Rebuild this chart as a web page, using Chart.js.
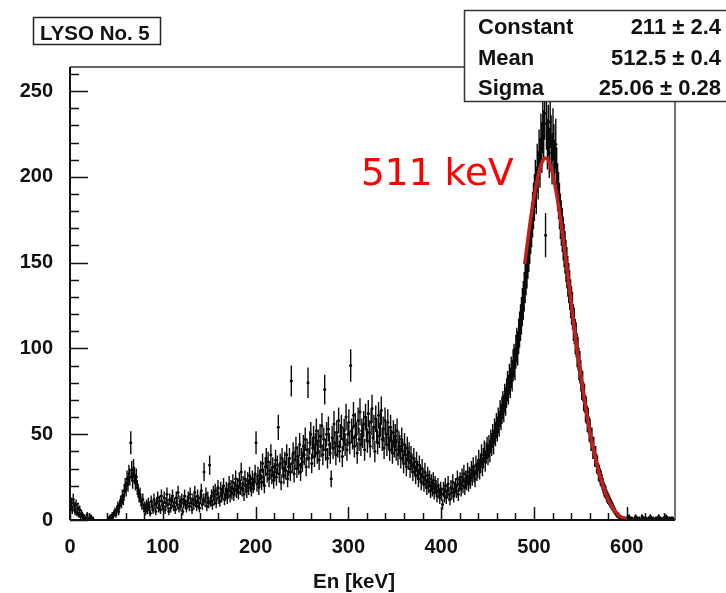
<!DOCTYPE html>
<html lang="en">
<head>
<meta charset="UTF-8"/>
<title>LYSO No. 5</title>
<script src="https://cdn.jsdelivr.net/npm/chart.js@4.4.1/dist/chart.umd.min.js"></script>
<style>
  body{margin:0;background:#fff}
  #box{width:726px;height:593px}
</style>
</head>
<body>
<div id="box"><canvas id="Chart" width="726" height="593"></canvas></div>
<script>
// histogram: 1 keV bins, first bin centred at 0.5 keV
const binStart = 0.5;
const binWidth = 1;
const counts = [
  // 0 - 49
  7, 10, 6, 12, 8, 5, 9, 4, 7, 3,
  6, 2, 4, 3, 1, 2, 0, 1, 3, 0,
  1, 0, 2, 0, 1, 0, 0, 0, 0, 0,
  0, 0, 0, 0, 0, 0, 0, 0, 0, 0,
  0, 1, 0, 2, 1, 3, 2, 4, 5, 3,
  // 50 - 99
  6, 8, 5, 9, 11, 10, 14, 12, 17, 20,
  18, 24, 21, 27, 25, 45, 29, 23, 30, 26,
  22, 25, 19, 17, 14, 15, 11, 9, 12, 7,
  8, 5, 9, 6, 10, 7, 4, 11, 8, 6,
  12, 9, 5, 10, 13, 7, 11, 6, 14, 9,
  // 100 - 149
  8, 13, 6, 10, 15, 9, 5, 12, 7, 11,
  14, 8, 10, 6, 13, 9, 16, 7, 11, 8,
  12, 5, 10, 14, 9, 7, 11, 13, 8, 15,
  10, 6, 12, 9, 16, 11, 8, 14, 10, 7,
  13, 17, 9, 12, 28, 11, 15, 8, 13, 10,
  // 150 - 199
  32, 11, 14, 9, 16, 12, 17, 10, 15, 19,
  13, 11, 18, 14, 16, 20, 12, 15, 18, 13,
  17, 21, 14, 19, 16, 22, 15, 18, 24, 17,
  20, 16, 23, 19, 28, 18, 21, 15, 24, 20,
  17, 23, 19, 26, 21, 18, 24, 20, 22, 27,
  // 200 - 249
  45, 21, 26, 19, 24, 29, 22, 33, 25, 20,
  31, 36, 27, 34, 24, 29, 38, 26, 31, 23,
  28, 35, 25, 32, 54, 27, 33, 22, 36, 30,
  26, 34, 29, 38, 24, 31, 36, 28, 81, 33,
  39, 27, 35, 42, 30, 37, 32, 44, 28, 36,
  // 250 - 299
  34, 43, 38, 47, 31, 41, 80, 36, 45, 50,
  33, 42, 48, 37, 44, 52, 39, 46, 35, 49,
  43, 55, 38, 47, 76, 41, 50, 36, 53, 44,
  39, 24, 48, 42, 56, 45, 38, 51, 43, 58,
  40, 49, 54, 37, 47, 52, 44, 60, 41, 50,
  // 300 - 349
  57, 45, 90, 52, 48, 61, 43, 55, 50, 39,
  58, 47, 63, 44, 52, 49, 56, 41, 60, 53,
  46, 62, 51, 43, 57, 65, 48, 54, 40, 59,
  52, 45, 61, 49, 56, 64, 47, 53, 42, 58,
  50, 44, 57, 48, 41, 54, 46, 39, 51, 43,
  // 350 - 399
  49, 41, 52, 38, 45, 43, 36, 47, 40, 33,
  44, 38, 31, 42, 35, 39, 30, 37, 33, 28,
  36, 31, 26, 34, 29, 24, 32, 27, 22, 30,
  25, 21, 28, 23, 19, 26, 20, 24, 17, 22,
  18, 23, 16, 21, 19, 14, 20, 17, 13, 18,
  // 400 - 449
  15, 9, 18, 14, 20, 13, 17, 21, 15, 12,
  19, 16, 22, 14, 18, 20, 17, 24, 15, 21,
  23, 18, 25, 20, 27, 19, 24, 22, 28, 21,
  26, 23, 29, 25, 31, 27, 24, 32, 28, 30,
  35, 29, 33, 38, 31, 36, 40, 34, 39, 42,
  // 450 - 499
  38, 43, 40, 46, 44, 49, 45, 52, 50, 55,
  53, 58, 56, 62, 60, 64, 67, 65, 71, 69,
  74, 78, 76, 82, 80, 86, 84, 90, 93, 91,
  98, 102, 100, 107, 111, 115, 119, 124, 128, 133,
  138, 143, 147, 153, 157, 162, 168, 172, 178, 183,
  // 500 - 549
  188, 196, 192, 205, 201, 213, 208, 222, 217, 229,
  224, 237, 166, 231, 219, 227, 214, 232, 221, 210,
  225, 216, 207, 219, 203, 194, 189, 183, 177, 173,
  169, 164, 160, 156, 151, 147, 142, 138, 134, 129,
  125, 122, 115, 113, 107, 105, 99, 97, 91, 89,
  // 550 - 599
  84, 79, 78, 72, 71, 65, 64, 59, 58, 53,
  52, 47, 47, 42, 42, 37, 37, 33, 32, 28,
  27, 25, 24, 22, 20, 18, 17, 16, 14, 13,
  12, 11, 10, 9, 8, 7, 6, 5, 4, 3,
  3, 2, 2, 1, 1, 1, 0, 1, 0, 1,
  // 600 - 649
  1, 0, 2, 1, 0, 1, 0, 0, 1, 2,
  0, 1, 0, 1, 0, 0, 2, 1, 0, 1,
  1, 0, 0, 1, 0, 2, 1, 0, 1, 0,
  0, 1, 1, 0, 2, 0, 1, 0, 0, 1,
  0, 1, 2, 0, 1, 0, 1, 0, 1, 1
];

// gaussian fit curve as drawn
const fitKeV    = [490, 495, 500, 505, 510, 512.5, 515, 520, 525, 530, 535, 540, 545, 550, 555, 560, 565, 570, 575, 580, 585, 590, 595, 600];
const fitCounts = [149, 170, 188, 202, 210, 211, 210, 202, 188, 170, 149, 127, 105, 86, 68, 52, 39, 28, 19, 12, 7, 3.5, 1.5, 0.5];

const xTicks = [0, 100, 200, 300, 400, 500, 600];
const yTicks = [0, 50, 100, 150, 200, 250];

const statNames  = ['Constant', 'Mean', 'Sigma'];
const statValues = ['211 \u00b1 2.4', '512.5 \u00b1 0.4', '25.06 \u00b1 0.28'];
const histTitle = 'LYSO No. 5';
const peakLabel = '511 keV';
const xTitle = 'En [keV]';

const FONT = '"Liberation Sans", Arial, Helvetica, sans-serif';

const histPoints = [];
counts.forEach((n, i) => { if (n > 0) histPoints.push({x: binStart + i * binWidth, y: n}); });

const rootStyle = {
  id: 'rootStyle',
  afterDatasetDraw(chart, args) {
    if (args.index !== 0) return;
    const ctx = chart.ctx, xs = chart.scales.x, ys = chart.scales.y, a = chart.chartArea;
    ctx.save();
    ctx.beginPath();
    ctx.rect(a.left, a.top, a.right - a.left, a.bottom - a.top);
    ctx.clip();
    ctx.strokeStyle = '#0a0a0a';
    ctx.lineWidth = 1.4;
    ctx.beginPath();
    histPoints.forEach(p => {
      const e = Math.sqrt(p.y);
      const px = xs.getPixelForValue(p.x);
      ctx.moveTo(px, ys.getPixelForValue(p.y + e));
      ctx.lineTo(px, ys.getPixelForValue(Math.max(0, p.y - e)));
      const py = ys.getPixelForValue(p.y);
      ctx.moveTo(xs.getPixelForValue(p.x - binWidth / 2) - 0.5, py);
      ctx.lineTo(xs.getPixelForValue(p.x + binWidth / 2) + 0.5, py);
    });
    ctx.stroke();
    ctx.restore();
  },
  afterDraw(chart) {
    const ctx = chart.ctx, xs = chart.scales.x, ys = chart.scales.y, a = chart.chartArea;
    ctx.save();
    // frame
    ctx.strokeStyle = '#666';
    ctx.lineWidth = 2;
    ctx.beginPath();
    ctx.moveTo(a.left, a.top); ctx.lineTo(a.right, a.top);
    ctx.stroke();
    ctx.lineWidth = 1.5;
    ctx.strokeStyle = '#444';
    ctx.beginPath();
    ctx.moveTo(a.right, a.top); ctx.lineTo(a.right, a.bottom);
    ctx.stroke();
    ctx.strokeStyle = '#111';
    ctx.lineWidth = 2;
    ctx.beginPath();
    ctx.moveTo(a.left, a.bottom); ctx.lineTo(a.right, a.bottom);
    ctx.moveTo(a.left, a.top); ctx.lineTo(a.left, a.bottom);
    ctx.stroke();
    // y ticks (inside, pointing right)
    ctx.lineWidth = 1.5;
    ctx.beginPath();
    for (let v = 0; v <= ys.max; v += 10) {
      const py = Math.round(ys.getPixelForValue(v)) + 0.5;
      const len = v % 50 === 0 ? 18 : 9;
      ctx.moveTo(a.left, py); ctx.lineTo(a.left + len, py);
    }
    // x ticks (inside, pointing up)
    for (let v = 0; v <= xs.max; v += 20) {
      const px = Math.round(xs.getPixelForValue(v)) + 0.5;
      const len = v % 100 === 0 ? 13 : 7;
      ctx.moveTo(px, a.bottom); ctx.lineTo(px, a.bottom - len);
    }
    ctx.stroke();

    // title box
    ctx.fillStyle = '#fff';
    ctx.fillRect(33, 17, 128, 27);
    ctx.strokeStyle = '#222';
    ctx.lineWidth = 1.5;
    ctx.strokeRect(33.5, 17.5, 127, 27);
    ctx.fillStyle = '#111';
    ctx.font = 'bold 20.5px ' + FONT;
    ctx.textAlign = 'left';
    ctx.textBaseline = 'alphabetic';
    ctx.fillText(histTitle, 40, 40);

    // stats box
    ctx.fillStyle = '#fff';
    ctx.fillRect(464, 10, 263, 92);
    ctx.strokeStyle = '#333';
    ctx.strokeRect(464.5, 10.5, 263, 91);
    ctx.fillStyle = '#111';
    ctx.font = 'bold 22px ' + FONT;
    statNames.forEach((s, i) => {
      const base = 34 + i * 30.5;
      ctx.textAlign = 'left';
      ctx.fillText(s, 478, base);
      ctx.textAlign = 'right';
      ctx.fillText(statValues[i], 721, base);
    });

    // peak label
    ctx.fillStyle = '#ff0000';
    ctx.textAlign = 'left';
    ctx.font = '37.5px "DejaVu Sans", sans-serif';
    ctx.fillText(peakLabel, 361, 185);

    // x axis title
    ctx.fillStyle = '#111';
    ctx.textAlign = 'center';
    ctx.font = 'bold 20.5px ' + FONT;
    ctx.fillText(xTitle, 354, 588);
    ctx.restore();
  }
};

const ctx = document.getElementById('Chart').getContext('2d');
const myChart = new Chart(ctx, {
  type: 'scatter',
  data: {
    datasets: [
      {
        label: histTitle,
        data: histPoints,
        pointRadius: 1.5,
        pointBackgroundColor: '#000',
        pointBorderWidth: 0,
        showLine: false,
        order: 2
      },
      {
        label: 'gaus',
        type: 'line',
        data: fitKeV.map((k, i) => ({x: k, y: fitCounts[i]})),
        borderColor: '#c21f1f',
        borderWidth: 3.5,
        pointRadius: 0,
        cubicInterpolationMode: 'monotone',
        fill: false,
        order: 1
      }
    ]
  },
  options: {
    responsive: false,
    animation: false,
    devicePixelRatio: 1,
    layout: { padding: { top: 67, right: 51, left: 0, bottom: 0 } },
    plugins: { legend: { display: false }, tooltip: { enabled: false } },
    scales: {
      x: {
        type: 'linear', min: 0, max: 652,
        afterBuildTicks: s => { s.ticks = xTicks.map(v => ({value: v})); },
        afterFit: s => { s.height = 73; },
        ticks: { font: { family: FONT, size: 20, weight: 'bold' }, color: '#111', padding: 15, maxRotation: 0, autoSkip: false },
        grid: { display: false, drawTicks: false },
        border: { display: false }
      },
      y: {
        min: 0, max: 264,
        afterBuildTicks: s => { s.ticks = yTicks.map(v => ({value: v})); },
        afterFit: s => { s.width = 70; },
        ticks: { font: { family: FONT, size: 20, weight: 'bold' }, color: '#111', padding: 17 },
        grid: { display: false, drawTicks: false },
        border: { display: false }
      }
    }
  },
  plugins: [rootStyle]
});
</script>
</body>
</html>
